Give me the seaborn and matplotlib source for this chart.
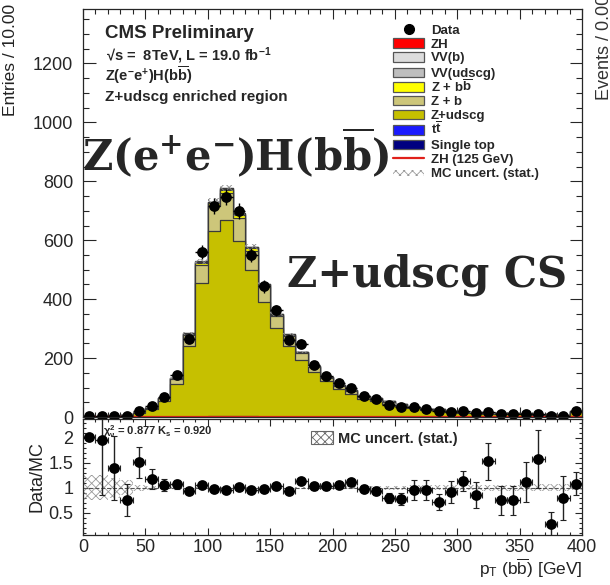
import numpy as np
import pandas as pd
import matplotlib
matplotlib.use("Agg")
import matplotlib.pyplot as plt
import seaborn as sns
from matplotlib.patches import Rectangle
from matplotlib.lines import Line2D
from matplotlib.ticker import MultipleLocator, FormatStrFormatter

# ---------------- data ----------------
bin_lo = [0, 10, 20, 30, 40, 50, 60, 70, 80, 90, 100, 110, 120, 130, 140, 150, 160, 170, 180, 190,
          200, 210, 220, 230, 240, 250, 260, 270, 280, 290, 300, 310, 320, 330, 340, 350, 360, 370, 380, 390]
bin_width = 10

data_counts = [3, 3, 4, 5, 22, 37, 69, 142, 266, 559, 717, 747, 700, 550, 443, 362, 263, 249, 176, 140,
               114, 100, 71, 60, 42, 34, 34, 27, 19, 18, 19, 14, 17, 10, 10, 11, 11, 3, 5, 21]

z_udscg = [1.2, 1.2, 2.5, 6, 12.5, 26, 55, 112, 240, 452, 628, 668, 594, 497, 388, 302, 240, 191, 152, 122,
           94, 78, 61, 54, 45, 37, 30, 24, 23, 17, 14, 14, 9, 11, 11, 8.5, 6, 8.5, 5, 16]
z_b = [0.2, 0.2, 0.3, 0.7, 1.8, 3.8, 7.5, 16, 36, 62, 85, 90, 80, 66, 52, 38, 33, 24, 16, 11,
       11, 9, 8, 7.5, 6, 5.2, 3.7, 3.0, 3.2, 2.3, 2.4, 1.6, 1.6, 1.6, 1.7, 1.3, 0.8, 1.3, 0.8, 2.6]
z_bb = [0.05, 0.05, 0.1, 0.2, 0.4, 0.7, 1.5, 2.5, 4.5, 8, 10, 11, 9.5, 7.5, 6, 5, 4, 3, 2, 2,
        2, 2, 1.8, 1.6, 1.3, 1.2, 0.9, 0.7, 0.5, 0.5, 0.4, 0.3, 0.3, 0.3, 0.2, 0.2, 0.1, 0.1, 0.1, 0.3]
vv_udscg = [0, 0, 0, 0.05, 0.2, 0.3, 0.6, 1.0, 1.8, 3, 4, 4.2, 3.8, 3.2, 2.6, 2.1, 1.8, 1.5, 1.2, 1,
            0.8, 0.7, 0.6, 0.5, 0.4, 0.4, 0.3, 0.3, 0.2, 0.2, 0.2, 0.1, 0.1, 0.1, 0.1, 0.1, 0.1, 0, 0.1, 0.1]
vv_b = [0, 0, 0, 0, 0.1, 0.1, 0.2, 0.4, 0.7, 1.2, 1.6, 1.7, 1.5, 1.3, 1.0, 0.8, 0.7, 0.6, 0.5, 0.4,
        0.3, 0.3, 0.2, 0.2, 0.2, 0.1, 0.1, 0.1, 0.1, 0.1, 0.1, 0, 0, 0, 0, 0, 0, 0, 0, 0]
ttbar = [0, 0, 0, 0, 0.1, 0.2, 0.3, 0.5, 0.8, 1.2, 1.5, 1.6, 1.5, 1.3, 1.1, 1.0, 0.9, 0.8, 0.7, 0.6,
         0.5, 0.4, 0.4, 0.3, 0.3, 0.2, 0.2, 0.2, 0.1, 0.1, 0.1, 0.1, 0.1, 0, 0, 0, 0, 0, 0, 0]
single_top = [0, 0, 0, 0, 0, 0.1, 0.1, 0.2, 0.3, 0.4, 0.5, 0.5, 0.5, 0.4, 0.4, 0.3, 0.3, 0.2, 0.2, 0.2,
              0.1, 0.1, 0.1, 0.1, 0.1, 0, 0, 0, 0, 0, 0, 0, 0, 0, 0, 0, 0, 0, 0, 0]
zh = [0, 0, 0, 0, 0, 0, 0.02, 0.05, 0.1, 0.2, 0.3, 0.35, 0.35, 0.3, 0.25, 0.2, 0.18, 0.15, 0.12, 0.1,
      0.08, 0.07, 0.06, 0.05, 0.04, 0.03, 0.03, 0.02, 0.02, 0.02, 0.01, 0.01, 0.01, 0.01, 0, 0, 0, 0, 0, 0]
zh125_line = zh

mc_rel_unc = [0.25, 0.25, 0.2, 0.15, 0.06, 0.04, 0.03, 0.02, 0.02, 0.015, 0.015, 0.015, 0.015, 0.015,
              0.015, 0.02, 0.02, 0.02, 0.025, 0.025, 0.03, 0.03, 0.035, 0.035, 0.04, 0.04, 0.045, 0.045,
              0.05, 0.05, 0.055, 0.055, 0.06, 0.06, 0.06, 0.065, 0.07, 0.07, 0.07, 0.05]

ratio_vals = [2.01, 1.96, 1.39, 0.76, 1.51, 1.18, 1.06, 1.07, 0.94, 1.06, 0.98, 0.96, 1.02, 0.96, 0.98,
              1.04, 0.94, 1.13, 1.03, 1.03, 1.06, 1.11, 0.98, 0.93, 0.79, 0.77, 0.96, 0.96, 0.71, 0.92,
              1.14, 0.85, 1.53, 0.75, 0.75, 1.11, 1.57, 0.28, 0.79, 1.08]
ratio_err = [0, 1.1, 0.64, 0.32, 0.31, 0.2, 0.12, 0.09, 0.06, 0.05, 0.04, 0.04, 0.04, 0.04, 0.05, 0.05,
             0.06, 0.06, 0.07, 0.07, 0.07, 0.07, 0.07, 0.08, 0.1, 0.12, 0.2, 0.2, 0.16, 0.22, 0.2, 0.26,
             0.37, 0.29, 0.29, 0.4, 0.58, 0.24, 0.44, 0.23]

legend_labels = ["Data", "ZH", "VV(b)", "VV(udscg)", r"Z + b$\overline{\mathbf{b}}$", "Z + b", "Z+udscg",
                 r"t$\overline{\mathbf{t}}$", "Single top", "ZH (125 GeV)", "MC uncert. (stat.)"]

# ---------------- style ----------------
sns.set_style("ticks")
plt.rcParams["font.family"] = ["Liberation Sans", "DejaVu Sans"]
plt.rcParams["mathtext.fontset"] = "custom"
plt.rcParams["mathtext.rm"] = "Liberation Sans"
plt.rcParams["mathtext.bf"] = "Liberation Sans:bold"
plt.rcParams["mathtext.it"] = "Liberation Sans:italic"
plt.rcParams["mathtext.sf"] = "Liberation Sans"
plt.rcParams["hatch.linewidth"] = 0.6

col = {
    "ZH": "#ff0000", "VV(b)": "#dcdcdc", "VV(udscg)": "#bebebe", "Zbb": "#ffff00",
    "Zb": "#cdc67a", "Zudscg": "#c6c000", "tt": "#1a1aff", "st": "#000080",
}
edge = "#3a3a3a"

W, H = 610, 585
fig = plt.figure(figsize=(W / 100, H / 100), dpi=100)
ax = fig.add_axes([83 / W, 1 - 417 / H, 499 / W, 408 / H])
rax = fig.add_axes([83 / W, 1 - 535 / H, 499 / W, 116 / H])

lo = np.array(bin_lo, dtype=float)
edges = np.append(lo, lo[-1] + bin_width)
centers = lo + bin_width / 2

# stacked MC, bottom -> top
layers = [single_top, ttbar, z_udscg, z_b, z_bb, vv_udscg, vv_b, zh]
layer_cols = [col["st"], col["tt"], col["Zudscg"], col["Zb"], col["Zbb"], col["VV(udscg)"], col["VV(b)"], col["ZH"]]
cum = np.cumsum(np.array(layers, dtype=float), axis=0)
for i in reversed(range(len(layers))):
    df = pd.DataFrame({"pt": centers, "w": cum[i]})
    sns.histplot(data=df, x="pt", weights="w", bins=list(edges), element="step", fill=True,
                 facecolor=layer_cols[i], edgecolor=edge, linewidth=0.9,
                 alpha=1, ax=ax)

total = cum[-1]
unc = total * np.array(mc_rel_unc)
ax.fill_between(edges, np.append(total - unc, (total - unc)[-1]), np.append(total + unc, (total + unc)[-1]),
                step="post", facecolor="none", edgecolor="#8a8a8a", hatch="xxxx", linewidth=0, zorder=3)

# signal line
ax.step(edges, np.append(zh125_line, zh125_line[-1]), where="post", color="#e0201a", linewidth=1.6, zorder=4)

# data
dc = np.array(data_counts, dtype=float)
ax.errorbar(centers, dc, yerr=np.sqrt(dc), xerr=bin_width / 2, fmt="none", ecolor="black",
            elinewidth=1.0, capsize=0, zorder=5)
sns.scatterplot(x=centers, y=dc, color="black", s=60, edgecolor="black", linewidth=0, ax=ax, zorder=6,
                clip_on=False)

ax.set_xlim(0, 400)
ax.set_ylim(0, 1385)
ax.set_xlabel("")
ax.set_ylabel("")
ax.xaxis.set_major_locator(MultipleLocator(50))
ax.xaxis.set_minor_locator(MultipleLocator(10))
ax.yaxis.set_major_locator(MultipleLocator(200))
ax.yaxis.set_minor_locator(MultipleLocator(50))
ax.tick_params(axis="x", which="both", direction="in", top=True, bottom=True, labelbottom=False)
ax.tick_params(axis="x", which="major", length=7, width=0.8)
ax.tick_params(axis="x", which="minor", length=3.5, width=0.8)
ax.tick_params(axis="y", which="both", direction="in", left=True, right=True, labelsize=13, pad=7)
ax.tick_params(axis="y", which="major", length=9, width=0.8)
ax.tick_params(axis="y", which="minor", length=4.5, width=0.8)
for s in ax.spines.values():
    s.set_linewidth(0.9)
    s.set_visible(True)
    s.set_zorder(10)

# ---------------- ratio ----------------
band = np.array(mc_rel_unc)
rax.fill_between(edges, np.append(1 - band, 1 - band[-1]), np.append(1 + band, 1 + band[-1]),
                 step="post", facecolor="none", edgecolor="#9a9a9a", hatch="xxxx", linewidth=0, zorder=1)
rax.axhline(1, ls="--", color="#555555", lw=0.8, zorder=2)
rv = np.array(ratio_vals)
rax.errorbar(centers, rv, yerr=np.array(ratio_err), xerr=bin_width / 2, fmt="none", ecolor="#222222",
             elinewidth=1.0, capsize=2, capthick=0.8, zorder=3)
sns.scatterplot(x=centers, y=rv, color="black", s=60, linewidth=0, ax=rax, zorder=4)
rax.set_xlim(0, 400)
rax.set_ylim(0.05, 2.37)
rax.set_xlabel("")
rax.set_ylabel("")
rax.xaxis.set_major_locator(MultipleLocator(50))
rax.xaxis.set_minor_locator(MultipleLocator(10))
rax.yaxis.set_major_locator(MultipleLocator(0.5))
rax.yaxis.set_minor_locator(MultipleLocator(0.1))
rax.yaxis.set_major_formatter(FormatStrFormatter("%g"))
rax.tick_params(axis="both", which="both", direction="in", top=True, right=True, labelsize=13)
rax.tick_params(axis="x", which="major", length=5, width=0.8, pad=3)
rax.tick_params(axis="x", which="minor", length=2.5, width=0.8)
rax.tick_params(axis="y", which="major", length=5, width=0.8, pad=7)
rax.tick_params(axis="y", which="minor", length=2.5, width=0.8)
for s in rax.spines.values():
    s.set_linewidth(0.9)
    s.set_visible(True)


def fx(px):
    return px / W


def fy(py):
    return 1 - py / H


# axis labels
fig.text(fx(3), fy(4), "Entries / 10.00", rotation=90, ha="left", va="top", fontsize=12.5, color="#222222")
fig.text(fx(37), fy(477), "Data/MC", rotation=90, ha="center", va="center", fontsize=13, color="#222222")
fig.text(fx(582), fy(575), r"p$_{\mathrm{T}}$ (b$\overline{\mathrm{b}}$) [GeV]", ha="right", va="baseline",
         fontsize=12.5, color="#222222")

# header text
fig.text(fx(105), fy(37.5), "CMS Preliminary", fontsize=13.5, fontweight="bold", va="baseline")
fig.text(fx(106), fy(61), r"√s =  8TeV, L = 19.0 fb$^{\mathbf{-1}}$", fontsize=10.5, fontweight="bold",
         va="baseline")
fig.text(fx(105), fy(81), r"Z(e$^{\mathbf{-}}$e$^{\mathbf{+}}$)H(b$\overline{\mathbf{b}}$)", fontsize=10.5,
         fontweight="bold", va="baseline")
fig.text(fx(105), fy(101), "Z+udscg enriched region", fontsize=11, fontweight="bold", va="baseline")

# big overlay text
fig.text(fx(82), fy(170), r"$\mathbf{Z(e^{+}e^{-})H(b\overline{b})}$", math_fontfamily="dejavuserif",
         fontsize=30, va="baseline", zorder=20)
fig.text(fx(287), fy(287), "Z+udscg CS", family="DejaVu Serif", fontweight="bold", fontsize=30,
         va="baseline", zorder=20)

# chi2 text
fig.text(fx(103), fy(435), r"$\mathbf{\chi^{2}_{\nu}}$ = 0.877 K$_{\mathbf{s}}$ = 0.920", fontsize=8,
         fontweight="bold", va="baseline")

# main legend (manual)
row_y = [29, 43, 57, 72, 87, 100.5, 115, 130, 144, 158, 173]
box_x0, box_w, box_h = 393, 31, 9
fill_cols = [None, col["ZH"], col["VV(b)"], col["VV(udscg)"], col["Zbb"], col["Zb"], col["Zudscg"],
             col["tt"], col["st"]]
for i, lab in enumerate(legend_labels):
    yc = row_y[i]
    if i == 0:
        fig.add_artist(Line2D([fx(box_x0 + box_w / 2)], [fy(yc)], marker="o", ms=7, color="black",
                              transform=fig.transFigure))
    elif i <= 8:
        fig.add_artist(Rectangle((fx(box_x0), fy(yc + box_h / 2)), box_w / W, box_h / H,
                                 facecolor=fill_cols[i], edgecolor="#555555", lw=0.9,
                                 transform=fig.transFigure))
    elif i == 9:
        fig.add_artist(Line2D([fx(box_x0), fx(box_x0 + box_w)], [fy(yc), fy(yc)], color="#e0201a", lw=1.6,
                              transform=fig.transFigure))
    else:
        fig.add_artist(Rectangle((fx(box_x0), fy(yc + 3)), box_w / W, 6 / H, facecolor="none",
                                 edgecolor="#9a9a9a", hatch="xxxx", lw=0, transform=fig.transFigure))
    fig.text(fx(431), fy(yc + 4.5), lab, fontsize=9.5, fontweight="bold", va="baseline")

# ratio legend
fig.add_artist(Rectangle((fx(311), fy(444)), 22 / W, 13 / H, facecolor="white", edgecolor="#666666",
                         hatch="xxxx", lw=0.8, transform=fig.transFigure))
fig.text(fx(338), fy(443), "MC uncert. (stat.)", fontsize=10.5, fontweight="bold", va="baseline")

# neighbouring panel remnant (cut off by the figure edge, as in the reference)
fig.text(fx(596), fy(100), "Events / 0.008", rotation=90, ha="left", va="bottom", fontsize=13,
         color="#333333")

fig.savefig("out.png", dpi=100)
